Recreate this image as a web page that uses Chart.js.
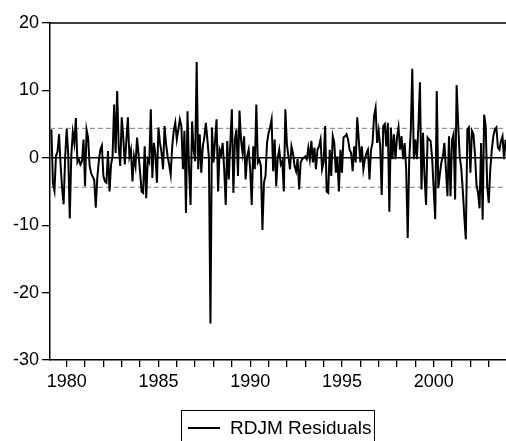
<!DOCTYPE html>
<html>
<head>
<meta charset="utf-8">
<title>RDJM Residuals</title>
<script src="https://cdn.jsdelivr.net/npm/chart.js@4.4.1/dist/chart.umd.min.js"></script>
<style>
  html, body { margin: 0; padding: 0; background: #fff; }
  #wrap { width: 506px; height: 441px; }
</style>
</head>
<body>
<div id="wrap"><canvas id="residChart" width="506" height="441"></canvas></div>
<script>
// monthly residuals, first observation 1979M03
const startYear = 1979;
const startMonth = 3;
const residuals = [
  4.2, -3.8, -4.9, 0.3, 0.9, 3.5, -1.0, -4.5, -6.9, 0.2, 4.3, 0.5,
  -9.0, 0.3, 3.8, 2.2, 5.9, -0.7, -0.3, -1.0, -0.5, 2.7, -4.2, 4.2,
  3.0, -1.2, -2.3, -2.8, -3.3, -7.4, -3.0, -0.5, 1.2, 1.8, -2.7, -3.5,
  -3.7, 1.0, -5.0, -1.0, 0.2, 7.9, 0.7, 9.9, 1.7, -1.2, 6.0, 3.0,
  -1.0, 2.5, 6.0, 0.2, 1.2, -3.5, 0.2, -1.2, 3.0, 0.5, -2.2, -5.0,
  -5.2, 1.7, -6.0, -0.2, -0.7, 7.2, -3.0, 2.2, 0.5, -3.7, 4.5, 2.2,
  0.8, -1.7, 4.7, 2.0, 0.2, -1.0, -2.5, 1.7, 4.0, 5.2, 2.7, 4.2,
  5.7, 4.7, -1.7, 4.0, -8.2, 6.9, -1.5, -7.0, 5.4, 1.2, -0.5, 14.2,
  -1.7, 3.5, -2.2, 1.7, 3.0, 5.2, 2.7, 0.0, -24.6, 4.5, -0.7, 2.5,
  5.7, -5.0, 1.2, 0.5, 2.2, -1.7, -7.0, 2.5, -3.2, 2.2, 7.2, -5.2,
  2.7, 4.2, -2.7, 7.0, 2.7, 0.7, 3.2, -3.2, 0.2, 1.2, -1.7, -7.0,
  1.7, -1.7, 7.9, -0.7, -0.3, -1.2, -10.7, -3.7, -2.7, 2.2, 3.7, 4.5,
  5.7, -2.0, 2.7, -4.2, 0.0, 1.2, -1.0, -0.5, -5.0, 7.2, 2.0, 0.2,
  -1.7, 1.7, 0.7, -1.2, -2.0, -0.2, -4.7, -0.7, -0.2, 0.0, 0.2, -0.2,
  1.5, -0.2, 2.5, -0.7, 1.5, -1.7, 1.2, 1.7, 2.7, -1.7, -0.7, 4.7,
  -5.0, -5.2, 1.2, -2.7, 3.2, 2.2, -2.2, 0.2, -5.0, 1.2, -2.2, 3.0,
  3.2, 3.5, 2.7, 1.2, 0.7, -2.0, 1.7, -0.7, 6.0, 2.7, -0.7, 1.7,
  -1.7, -0.2, 0.7, 1.2, -3.2, 1.2, 2.2, 6.2, 7.4, 2.2, 4.0, 1.7,
  -5.5, 4.7, 5.0, 1.7, 5.2, -8.0, 4.5, -0.2, 3.5, -0.2, 3.0, 4.5,
  1.2, 3.2, -0.2, 2.2, -1.7, -11.9, -0.2, 4.0, 13.2, -0.2, 2.7, -0.2,
  4.7, 11.2, -4.7, 3.7, -2.7, -7.0, 3.0, 2.7, 2.5, -0.2, -4.7, -9.1,
  9.9, -4.5, -2.5, -0.7, 0.2, 2.2, -1.7, -5.7, 3.2, -5.7, 2.7, 3.5,
  -6.2, 10.8, 5.0, 0.2, -1.5, -4.7, -8.7, -12.1, 4.2, 4.5, -2.2, 4.0,
  3.5, 0.5, -4.0, -5.2, -7.5, 2.2, -9.2, 6.4, 4.7, -4.2, -6.7, -1.7,
  1.2, 3.2, 4.2, 4.5, 1.5, 1.2, 2.5, 3.2, -0.2, 2.7
];
const seBand = 4.37;   // +/- one standard error, dashed
const yearTicks = [1980, 1981, 1982, 1983, 1984, 1985, 1986, 1987, 1988, 1989, 1990, 1991,
  1992, 1993, 1994, 1995, 1996, 1997, 1998, 1999, 2000, 2001, 2002, 2003];
const yTicks = [-30, -20, -10, 0, 10, 20];
const seriesLabel = "RDJM Residuals";

const xMin = 1979.09;
const xMax = 2003.94;
const fontFamily = "'Liberation Sans', Arial, sans-serif";

const points = residuals.map(function (v, i) {
  return { x: startYear + (startMonth - 1 + i) / 12, y: v };
});

function flatLine(value) {
  return [{ x: xMin, y: value }, { x: xMax, y: value }];
}

// top frame line + boxed legend under the axis
const framePlugin = {
  id: "frame",
  afterDraw: function (chart) {
    const ctx = chart.ctx;
    const area = chart.chartArea;
    ctx.save();
    ctx.strokeStyle = "#000";
    ctx.lineWidth = 1.5;
    ctx.beginPath();
    ctx.moveTo(area.left, area.top);
    ctx.lineTo(area.right, area.top);
    ctx.stroke();

    ctx.font = "19px " + fontFamily;
    const textX = 230;
    const textW = ctx.measureText(seriesLabel).width;
    ctx.lineWidth = 1;
    ctx.strokeRect(181.5, 410.5, textX + textW + 3 - 181.5, 40);
    ctx.lineWidth = 2;
    ctx.beginPath();
    ctx.moveTo(188, 428);
    ctx.lineTo(220, 428);
    ctx.stroke();
    ctx.fillStyle = "#000";
    ctx.textBaseline = "middle";
    ctx.fillText(seriesLabel, textX, 429);
    ctx.restore();
  }
};

new Chart(document.getElementById("residChart"), {
  type: "line",
  data: {
    datasets: [
      {
        label: seriesLabel,
        data: points,
        borderColor: "#000",
        borderWidth: 2,
        pointRadius: 0,
        tension: 0,
        fill: false
      },
      {
        label: "zero",
        data: flatLine(0),
        borderColor: "#000",
        borderWidth: 1.5,
        pointRadius: 0
      },
      {
        label: "upper",
        data: flatLine(seBand),
        borderColor: "#808080",
        borderWidth: 1,
        borderDash: [5, 3],
        pointRadius: 0
      },
      {
        label: "lower",
        data: flatLine(-seBand),
        borderColor: "#808080",
        borderWidth: 1,
        borderDash: [5, 3],
        pointRadius: 0
      }
    ]
  },
  options: {
    responsive: false,
    animation: false,
    devicePixelRatio: 1,
    layout: { padding: { top: 23, right: 0, left: 0, bottom: 0 } },
    plugins: {
      legend: { display: false },
      tooltip: { enabled: false }
    },
    scales: {
      x: {
        type: "linear",
        min: xMin,
        max: xMax,
        afterFit: function (scale) { scale.height = 81; },
        afterBuildTicks: function (scale) {
          scale.ticks = yearTicks.map(function (v) { return { value: v }; });
        },
        ticks: {
          autoSkip: false,
          maxRotation: 0,
          padding: 4,
          color: "#000",
          font: { size: 18, family: fontFamily },
          callback: function (value) {
            return value % 5 === 0 ? String(value) : "";
          }
        },
        grid: {
          drawOnChartArea: false,
          drawTicks: true,
          tickLength: 7,
          color: "#000",
          lineWidth: 1.3
        },
        border: { display: true, color: "#000", width: 1.5 }
      },
      y: {
        min: -30,
        max: 20,
        afterFit: function (scale) { scale.width = 50; },
        afterBuildTicks: function (scale) {
          scale.ticks = yTicks.map(function (v) { return { value: v }; });
        },
        ticks: {
          padding: 3,
          color: "#000",
          font: { size: 18, family: fontFamily }
        },
        grid: {
          drawOnChartArea: false,
          drawTicks: true,
          tickLength: 8,
          color: "#000",
          lineWidth: 1.3
        },
        border: { display: true, color: "#000", width: 1.5 }
      }
    }
  },
  plugins: [framePlugin]
});
</script>
</body>
</html>
